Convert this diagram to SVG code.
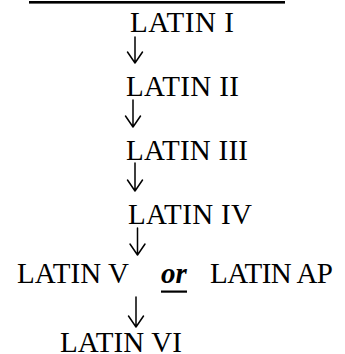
<svg xmlns="http://www.w3.org/2000/svg" width="345" height="354" viewBox="0 0 345 354">
<style>
.t{font-family:"Liberation Serif","Times New Roman",serif;font-size:29px;fill:#000}
.or{font-family:"Liberation Serif","Times New Roman",serif;font-size:29px;font-weight:bold;font-style:italic;fill:#000}
.arr{fill:none;stroke:#000;stroke-width:1.5;stroke-linecap:round;stroke-linejoin:round}
</style>
<rect width="345" height="354" fill="#fff"/>
<rect x="29" y="1" width="256" height="2.6" fill="#000"/>
<g id="latin1"><text class="t" x="130" y="32" textLength="104" lengthAdjust="spacing">LATIN I</text></g>
<g id="latin2"><text class="t" x="126" y="96" textLength="113" lengthAdjust="spacing">LATIN II</text></g>
<g id="latin3"><text class="t" x="126" y="160" textLength="122" lengthAdjust="spacing">LATIN III</text></g>
<g id="latin4"><text class="t" x="128" y="224" textLength="124" lengthAdjust="spacing">LATIN IV</text></g>
<g id="latin5"><text class="t" x="17" y="283" textLength="112" lengthAdjust="spacing">LATIN V</text></g>
<g id="or"><text class="or" x="161" y="283">or</text><rect x="161" y="290.5" width="26" height="2.2" fill="#000"/></g>
<g id="latinap"><text class="t" x="210" y="283" textLength="123" lengthAdjust="spacing">LATIN AP</text></g>
<g id="latin6"><text class="t" x="60" y="351.5" textLength="122" lengthAdjust="spacing">LATIN VI</text></g>
<g id="connectors">
<path class="arr" d="M135 37V63M127.5 52L135 63L142.5 52"/>
<path class="arr" d="M133 100V127M125.5 116L133 127L140.5 116"/>
<path class="arr" d="M135 163V191M127.5 180L135 191L142.5 180"/>
<path class="arr" d="M137.5 228V255M130 244L137.5 255L145 244"/>
<path class="arr" d="M136 297V327M128.5 316L136 327L143.5 316"/>
</g>
</svg>
